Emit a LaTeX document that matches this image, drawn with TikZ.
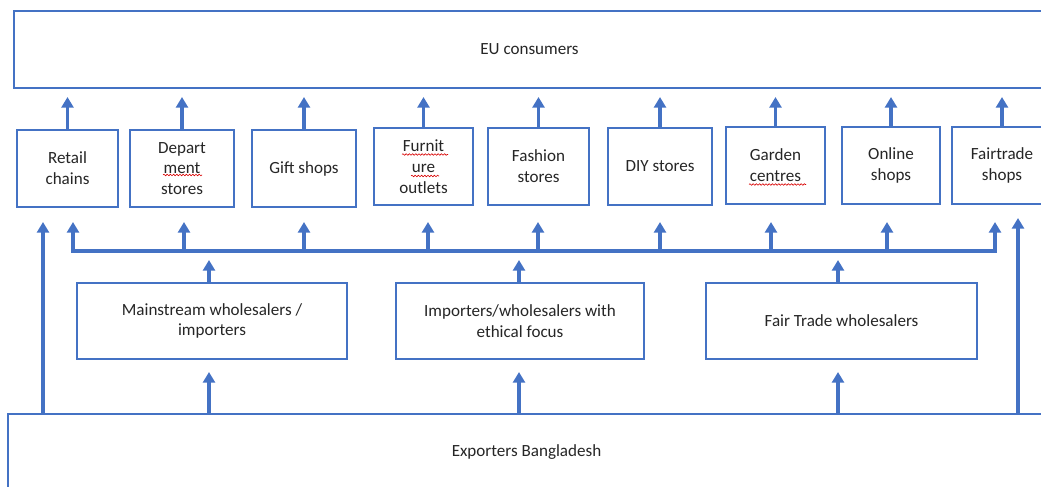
\documentclass[tikz,border=0pt]{standalone}
\usepackage{fontspec}
\setmainfont{Carlito}
\usetikzlibrary{arrows.meta,decorations.pathmorphing}
\definecolor{bl}{HTML}{4472C4}
\definecolor{txt}{HTML}{262626}
\begin{document}
\begin{tikzpicture}[x=0.75pt,y=-0.75pt,
  >={Triangle[width=9pt,length=8pt]},
  box/.style={draw=bl,line width=0.8pt,fill=white,inner sep=0pt,align=center,text=txt,
    font=\fontsize{12.8}{15.6}\selectfont,minimum height=57.75pt},
  conn/.style={draw=bl,line width=2.3pt,fill=bl},
  squig/.style={draw=red!85!black,line width=0.45pt,decorate,
    decoration={snake,amplitude=0.6pt,segment length=2.4pt}}]
\useasboundingbox (0,0) rectangle (1041,486);
\clip (0,0) rectangle (1041,486);

% top and bottom
\node[box,minimum width=773.25pt] (eu) at (529.5,49.5) {EU consumers};
\node[box,minimum width=777.75pt,minimum height=57pt] (exp) at (526.5,452) {Exporters Bangladesh};

% retail row
\node[box,minimum width=75.75pt] (rc)  at (67.5,168.5) {Retail\\chains};
\node[box,minimum width=78pt]    (ds)  at (182,168.5)  {Depart\\ment\\stores};
\node[box,minimum width=78pt]    (gs)  at (304,168.5)  {Gift shops};
\node[box,minimum width=74.25pt] (fo)  at (423.5,166.5) {Furnit\\ure\\outlets};
\node[box,minimum width=75.75pt] (fs)  at (538.5,166.5) {Fashion\\stores};
\node[box,minimum width=78pt]    (diy) at (660,166.5)  {DIY stores};
\node[box,minimum width=74.25pt] (gc)  at (775.5,165.5) {Garden\\centres};
\node[box,minimum width=73.5pt]  (os)  at (891,165.5)  {Online\\shops};
\node[box,minimum width=75pt]    (ft)  at (1002,165.5) {Fairtrade\\shops};

% wholesalers
\node[box,minimum width=202.5pt,minimum height=57pt]  (mw)  at (212,321)   {Mainstream wholesalers /\\importers};
\node[box,minimum width=186pt,minimum height=57pt]    (ie)  at (520,321)   {Importers/wholesalers with\\ethical focus};
\node[box,minimum width=203.25pt,minimum height=57pt] (ftw) at (841.5,321) {Fair Trade wholesalers};

% spell-check marks
\draw[squig] (163,175) -- (202,175);
\draw[squig] (402,154.5) -- (448,154.5);
\draw[squig] (411,176) -- (439,176);
\draw[squig] (749,184.5) -- (806,184.5);

% helper levels
\coordinate (euTip) at (0,97);
\coordinate (wTip) at (0,260);
\coordinate (eTip) at (0,372);

% retail -> EU
\foreach \n in {rc,ds,gs,fo,fs,diy,gc,os,ft}
  \draw[conn,->] (\n.north) -- (\n.north |- euTip);

% bus
\coordinate (bL) at (73,222);
\coordinate (bLc) at (73,251);
\coordinate (bRc) at (995,251);
\coordinate (bR) at (995,222);
\draw[conn,fill=none,<->] (bL) -- (bLc) -- (bRc) -- (bR);
\foreach \n/\x in {ds/184,gs/304,fo/428,fs/538,diy/660,gc/771,os/887}{
  \coordinate (b\n) at (\x,251);
  \draw[conn,->] (b\n) -- (b\n |- bL);
}

% wholesalers -> bus
\coordinate (wm) at (209,0);
\coordinate (we) at (519,0);
\coordinate (wf) at (838,0);
\foreach \w/\c in {mw/wm,ie/we,ftw/wf}{
  \draw[conn,->] (\c |- \w.north) -- (\c |- wTip);
  \draw[conn,->] (\c |- exp.north) -- (\c |- eTip);
}

% long arrows from exporters
\coordinate (lL) at (43,222);
\coordinate (lR) at (1018,218);
\draw[conn,->] (lL |- exp.north) -- (lL);
\draw[conn,->] (lR |- exp.north) -- (lR);
\end{tikzpicture}
\end{document}
